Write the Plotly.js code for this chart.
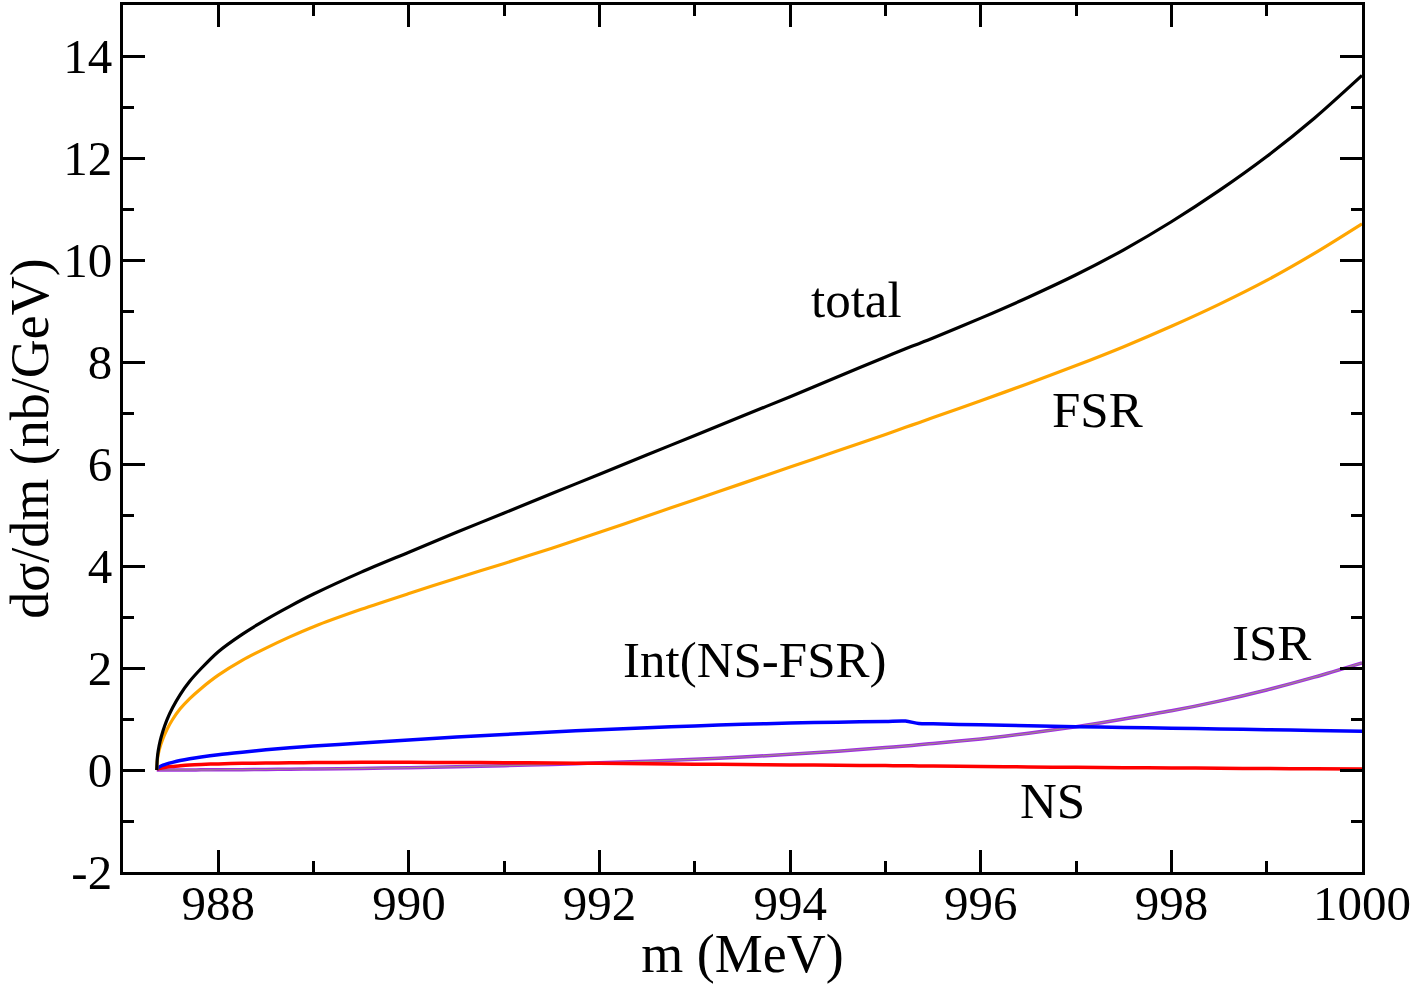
<!DOCTYPE html>
<html>
<head>
<meta charset="utf-8">
<script src="https://cdn.plot.ly/plotly-3.0.1.min.js"></script>
<style>html,body{margin:0;padding:0;background:#fff;}#chart{width:1417px;height:984px;}</style>
</head>
<body>
<div id="chart"></div>
<script>
// m (MeV)
const mass = [987.354, 987.36, 987.37, 987.39, 987.42, 987.46, 987.52, 987.6, 987.7, 987.82, 988, 988.25, 988.5, 988.75, 989, 989.5, 990, 990.5, 991, 991.5, 992, 992.5, 993, 993.5, 994, 994.5, 995, 995.21, 995.35, 995.5, 996, 996.5, 997, 997.5, 998, 998.5, 999, 999.5, 1000];
// dσ/dm (nb/GeV)
const totalVals = [0, 0.23, 0.38, 0.57, 0.77, 0.98, 1.22, 1.48, 1.74, 1.99, 2.32, 2.66, 2.95, 3.21, 3.45, 3.88, 4.27, 4.66, 5.04, 5.42, 5.80, 6.18, 6.56, 6.94, 7.32, 7.71, 8.10, 8.26, 8.36, 8.47, 8.86, 9.27, 9.71, 10.20, 10.75, 11.36, 12.03, 12.78, 13.62];
const fsrVals = [0, 0.19, 0.31, 0.46, 0.62, 0.79, 0.99, 1.20, 1.40, 1.60, 1.86, 2.15, 2.39, 2.61, 2.81, 3.15, 3.46, 3.76, 4.05, 4.35, 4.66, 4.98, 5.30, 5.62, 5.94, 6.26, 6.58, 6.72, 6.81, 6.91, 7.24, 7.58, 7.93, 8.30, 8.70, 9.13, 9.60, 10.13, 10.71];
const intVals = [0, 0.03, 0.047, 0.07, 0.095, 0.12, 0.15, 0.185, 0.22, 0.255, 0.30, 0.35, 0.395, 0.435, 0.47, 0.53, 0.59, 0.645, 0.695, 0.745, 0.79, 0.83, 0.865, 0.895, 0.92, 0.938, 0.953, 0.96, 0.91, 0.905, 0.885, 0.868, 0.85, 0.835, 0.82, 0.805, 0.79, 0.775, 0.76];
const nsVals = [0, 0.015, 0.025, 0.035, 0.045, 0.06, 0.07, 0.085, 0.10, 0.11, 0.12, 0.13, 0.135, 0.14, 0.145, 0.15, 0.15, 0.148, 0.143, 0.137, 0.13, 0.123, 0.115, 0.107, 0.10, 0.093, 0.086, 0.083, 0.08, 0.077, 0.068, 0.06, 0.052, 0.045, 0.04, 0.034, 0.029, 0.024, 0.02];
const isrVals = [0, 0, 0, 0, 0, 0, 0.001, 0.001, 0.002, 0.003, 0.005, 0.007, 0.01, 0.015, 0.02, 0.03, 0.045, 0.065, 0.085, 0.11, 0.14, 0.17, 0.21, 0.255, 0.31, 0.37, 0.44, 0.47, 0.495, 0.52, 0.61, 0.72, 0.85, 1.0, 1.16, 1.35, 1.57, 1.82, 2.10];

const yTickVals = [-2, 0, 2, 4, 6, 8, 10, 12, 14];
const yTickText = ["-2", "0", "2", "4", "6", "8", "10", "12", "14"];

const labelText = ["total", "FSR", "Int(NS-FSR)", "ISR", "NS"];
const labelX = [994.70, 997.22, 993.63, 999.05, 996.75];
const labelY = [9.21, 7.05, 2.15, 2.50, -0.60];

const xTitle = "m (MeV)";
const yTitle = "dσ/dm (nb/GeV)";

const FONT = "Liberation Serif, Times New Roman, serif";

function line(y, color, width) {
  return {x: mass, y: y, type: "scatter", mode: "lines", line: {color: color, width: width, shape: "spline", smoothing: 0.8}, hoverinfo: "skip", showlegend: false};
}

const traces = [
  line(isrVals, "#a030e0", 3.5),
  line(isrVals, "#a08888", 1.2),
  line(nsVals, "#ff0000", 3.5),
  line(intVals, "#0000ff", 3.5),
  line(fsrVals, "#ffa500", 3.2),
  line(totalVals, "#000000", 3.2)
];

const annotations = labelText.map((t, i) => ({
  x: labelX[i], y: labelY[i], xref: "x", yref: "y", text: t, showarrow: false,
  font: {family: FONT, size: 51, color: "#000"}, xanchor: "center", yanchor: "middle"
}));

const axisCommon = {
  showgrid: false, zeroline: false, showline: true, linecolor: "#000", linewidth: 3,
  mirror: "allticks", ticks: "inside", ticklen: 22, tickwidth: 3, tickcolor: "#000",
  tickfont: {family: FONT, size: 49, color: "#000"}
};

const layout = {
  width: 1417, height: 984,
  margin: {l: 123, r: 55, t: 5, b: 112},
  paper_bgcolor: "#fff", plot_bgcolor: "#fff",
  font: {family: FONT, color: "#000"},
  xaxis: Object.assign({}, axisCommon, {
    range: [987, 1000], tick0: 988, dtick: 2, ticklabelstandoff: -14,
    minor: {dtick: 1, tick0: 987, ticks: "inside", ticklen: 11, tickwidth: 3, tickcolor: "#000"},
    title: {text: xTitle, font: {family: FONT, size: 54, color: "#000"}, standoff: 2}
  }),
  yaxis: Object.assign({}, axisCommon, {
    range: [-2, 15], tickmode: "array", tickvals: yTickVals, ticktext: yTickText, ticklabelstandoff: -2,
    minor: {dtick: 1, tick0: 0, ticks: "inside", ticklen: 11, tickwidth: 3, tickcolor: "#000"},
    title: {text: yTitle, font: {family: FONT, size: 54, color: "#000"}, standoff: 14}
  }),
  annotations: annotations
};

Plotly.newPlot("chart", traces, layout, {displayModeBar: false, staticPlot: true});
</script>
</body>
</html>
